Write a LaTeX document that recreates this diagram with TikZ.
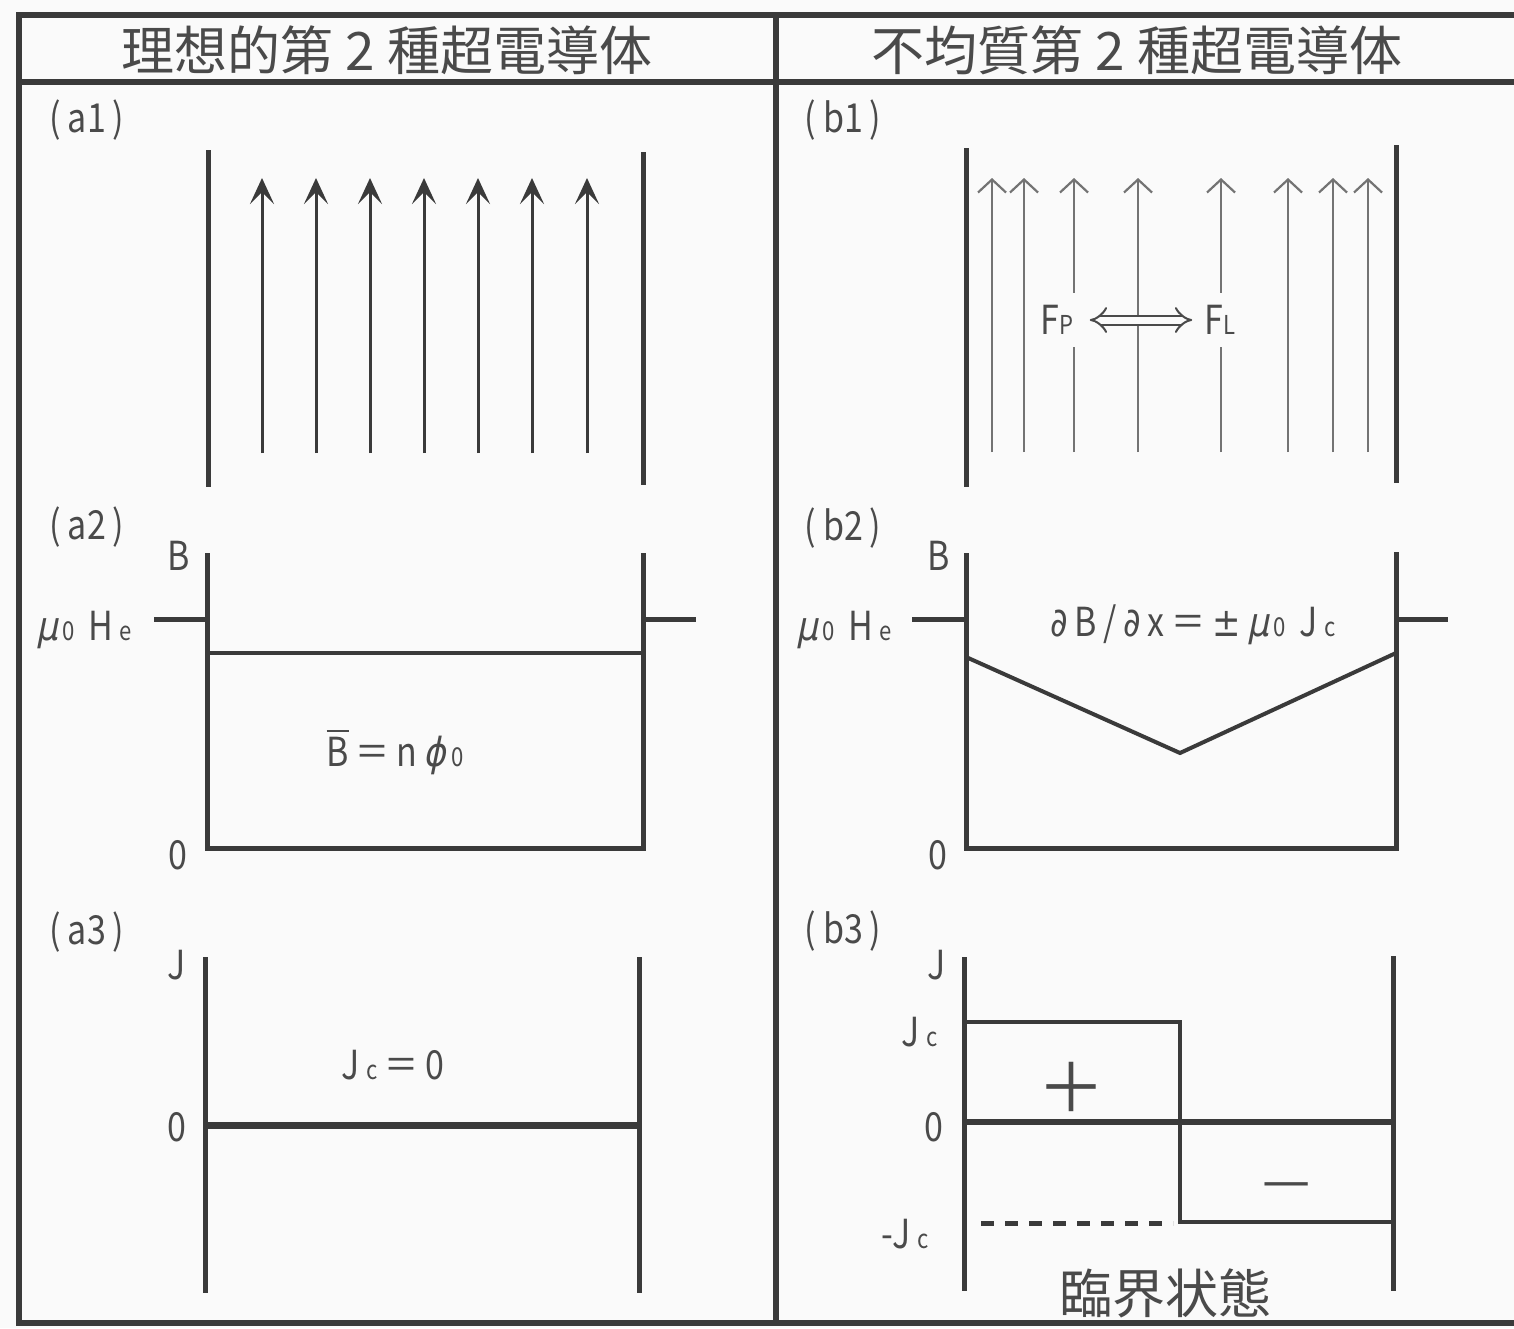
\documentclass[tikz,border=0pt]{standalone}
\usepackage{fontspec}
\setmainfont{Noto Sans CJK JP}
\newfontfamily\jpf{Noto Sans CJK JP}
\newfontfamily\latf[FakeStretch=0.85]{Noto Sans CJK JP}
\newfontfamily\grf[FakeSlant=0.2,FakeStretch=0.85]{DejaVu Sans}
\newfontfamily\mathsym[FakeStretch=0.85]{DejaVu Sans}
\usetikzlibrary{arrows.meta}
\definecolor{ink}{HTML}{3A3A3A}
\definecolor{txt}{HTML}{4A4A4A}
\definecolor{thingray}{HTML}{737373}
\definecolor{bgc}{HTML}{FAFAFA}
\newcommand\sm[1]{{\fontsize{13}{13}\selectfont #1}}
\newcommand\ovl[1]{\leavevmode\vbox{\hrule height 1.1pt\kern 2.5pt\hbox{#1}}}
\newcommand\mumu{{\grf μ}\kern2.5pt}
\begin{document}
\begin{tikzpicture}[x=0.5pt,y=-0.5pt,
  frame/.style={ink, line width=3pt, line join=miter},
  axis/.style={ink, line width=2.5pt},
  curve/.style={ink, line width=2pt, line join=miter},
  lbl/.style={txt, inner sep=0pt, font=\latf\fontsize{20}{20}\selectfont},
  ttl/.style={txt, inner sep=0pt, font=\jpf\fontsize{26.5}{26.5}\selectfont},
  pmsign/.style={txt, inner sep=0pt, font=\jpf\fontsize{34}{34}\selectfont},
  fluxA/.style={ink, line width=1.5pt, -{Stealth[length=13pt,width=12pt,inset=6pt]}},
  fluxB/.style={thingray, line width=1.1pt, -{Straight Barb[length=6.5pt,width=14pt]}},
]
\useasboundingbox (0,0) rectangle (1514,1328);
\fill[bgc] (0,0) rectangle (1514,1328);

% frame
\draw[frame] (1514,15) -- (19,15) -- (19,1323) -- (1514,1323);
\draw[frame] (19,82) -- (1514,82);
\draw[frame] (776,15) -- (776,1323);

% titles
\node[ttl] (tA) at (387,50) {理想的第 2 種超電導体};
\node[ttl] (tB) at (1137,50) {不均質第 2 種超電導体};

% panel labels
\node[lbl] (la1) at (87,120) {(\,a1\,)};
\node[lbl] (la2) at (87,527) {(\,a2\,)};
\node[lbl] (la3) at (87,932) {(\,a3\,)};
\node[lbl] (lb1) at (843,120) {(\,b1\,)};
\node[lbl] (lb2) at (843,528) {(\,b2\,)};
\node[lbl] (lb3) at (843,931) {(\,b3\,)};

% (a1)
\draw[axis] (208,150) -- (208,487);
\draw[axis] (643,152) -- (643,485);
\foreach \x in {262,316,370,424,478,532,587}
  \draw[fluxA] (\x,453) -- (\x,178);

% (b1)
\draw[axis] (966,148) -- (966,487);
\draw[axis] (1396,145) -- (1396,483);
\foreach \x in {992,1024,1074,1138,1221,1288,1333,1368}
  \draw[fluxB] (\x,452) -- (\x,178);
\node[lbl, fill=bgc, inner xsep=8pt, inner ysep=6pt] (fp) at (1057,320) {F\sm{P}};
\node[lbl, fill=bgc, inner xsep=6pt, inner ysep=6pt] (fl) at (1220,320) {F\sm{L}};
\draw[txt, line width=1pt, double=bgc, double distance=3.5pt, {Implies}-{Implies}] (fp) -- (fl);

% (a2)
\draw[axis, line join=miter] (207,553) -- (207,848) -- (643,848) -- (643,553);
\draw[curve] (207,653) -- (643,653);
\draw[axis] (154,619) -- (207,619);
\draw[axis] (643,619) -- (696,619);
\node[lbl] (a2B) at (179,556) {B};
\node[lbl] (a2H) at (84,630) {\mumu\sm{0}\,\,H\,\sm{e}};
\node[lbl] (a2z) at (178,855) {0};
\node[lbl] (a2eq) at (395,752) {\ovl{B}\,＝\,n\,{\grf ϕ}\kern2.5pt\sm{0}};

% (b2)
\draw[axis, line join=miter] (966,553) -- (966,848) -- (1396,848) -- (1396,552);
\draw[curve] (966,657) -- (1180,753) -- (1396,653);
\draw[axis] (912,619) -- (966,619);
\draw[axis] (1396,619) -- (1448,619);
\node[lbl] (b2B) at (939,556) {B};
\node[lbl] (b2H) at (844,630) {\mumu\sm{0}\,\,H\,\sm{e}};
\node[lbl] (b2z) at (938,855) {0};
\node[lbl] (b2eq) at (1193,625) {{\mathsym ∂}\,B\,/\,{\mathsym ∂}\,x\,＝\,{\mathsym ±}\,\mumu\sm{0}\,\,J\,\sm{c}};

% (a3)
\draw[axis] (205,957) -- (205,1293);
\draw[axis] (639,957) -- (639,1293);
\draw[ink, line width=3.5pt] (205,1125) -- (639,1125);
\node[lbl] (a3J) at (177,965) {J};
\node[lbl] (a3z) at (177,1127) {0};
\node[lbl] (a3eq) at (393,1065) {J\,\sm{c}\,＝\,0};

% (b3)
\draw[axis] (964,957) -- (964,1291);
\draw[axis] (1393,956) -- (1393,1291);
\draw[curve] (964,1022) -- (1180,1022) -- (1180,1222) -- (1393,1222);
\draw[ink, line width=3pt] (964,1122) -- (1393,1122);
\draw[ink, line width=2.5pt, dash pattern=on 6.5pt off 5.5pt] (981,1223) -- (1173,1223);
\node[lbl] (b3J) at (937,965) {J};
\node[lbl] (b3Jc) at (920,1032) {J\,\sm{c}};
\node[lbl] (b3z) at (934,1127) {0};
\node[lbl] (b3mJc) at (905,1234) {-J\,\sm{c}};
\node[pmsign] (plus) at (1071,1087) {＋};
\node[txt, inner sep=0pt, font=\jpf\fontsize{27}{27}\selectfont] (minus) at (1287,1191) {—};
\node[ttl] (crit) at (1165,1293) {臨界状態};
\end{tikzpicture}
\end{document}
